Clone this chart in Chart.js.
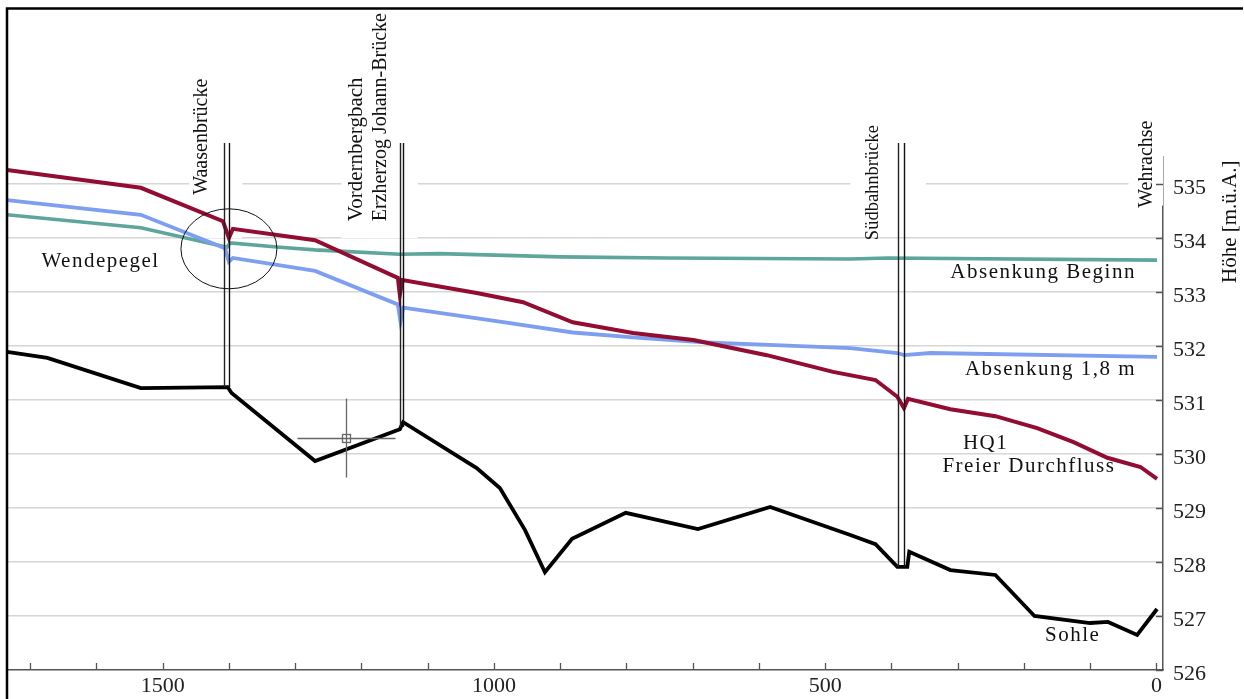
<!DOCTYPE html>
<html>
<head>
<meta charset="utf-8">
<script src="https://cdn.jsdelivr.net/npm/chart.js@4.4.1/dist/chart.umd.min.js"></script>
<style>
html,body{margin:0;padding:0;background:#fff;}
#wrap{width:1244px;height:699px;}
</style>
</head>
<body>
<div id="wrap"><canvas id="c" width="1244" height="699"></canvas></div>
<script>
// ---- data (station [m], height [m.ü.A.]) ----
const hq1 = [[1735,535.26],[1533,534.93],[1409,534.31],[1400,534.0],[1394,534.17],[1270,533.96],[1145,533.26],[1142,532.95],[1138,533.22],[1026,532.98],[956,532.81],[881,532.44],[790,532.24],[699,532.11],[648,531.98],[588,531.83],[488,531.52],[424,531.37],[391,531.06],[381,530.85],[375,531.02],[311,530.83],[243,530.70],[180,530.48],[125,530.22],[74,529.93],[24,529.76],[-1,529.54]];
const absenkung18 = [[1735,534.70],[1533,534.43],[1406,533.81],[1400,533.56],[1394,533.63],[1270,533.39],[1145,532.77],[1141,532.45],[1137,532.71],[991,532.45],[881,532.25],[790,532.16],[689,532.07],[462,531.96],[391,531.87],[381,531.83],[341,531.87],[-1,531.80]];
const absenkungBeginn = [[1735,534.43],[1533,534.19],[1403,533.83],[1398,533.91],[1323,533.83],[1270,533.78],[1142,533.70],[1082,533.71],[900,533.65],[739,533.63],[462,533.61],[406,533.63],[-1,533.59]];
const sohle = [[1735,531.89],[1674,531.78],[1533,531.22],[1402,531.24],[1396,531.13],[1270,529.87],[1142,530.46],[1137,530.59],[1026,529.74],[991,529.37],[953,528.59],[923,527.81],[882,528.43],[801,528.91],[692,528.61],[583,529.02],[462,528.50],[424,528.33],[391,527.91],[376,527.91],[373,528.19],[311,527.85],[243,527.76],[184,527.0],[100,526.87],[73,526.89],[29,526.65],[-1,527.13]];

const xTickValues = [0,100,200,300,400,500,600,700,800,900,1000,1100,1200,1300,1400,1500,1600,1700];
const yTickValues = [526,527,528,529,530,531,532,533,534,535];

// bridges: two station lines each, top height and bottom (river bed) height
const bridges = [
  {x1:1408, x2:1400, top:535.76, bottom:531.24},
  {x1:1142, x2:1137, top:535.76, bottom:530.50},
  {x1:390,  x2:381,  top:535.76, bottom:527.91}
];
// vertical labels: station of text centre, height of text start
const vLabels = [
  {text:'Waasenbrücke', x:1441, y:534.80, size:20, box:[1460,1380,534.0]},
  {text:'Vordernbergbach', x:1208, y:534.31, size:21, box:null},
  {text:'Erzherzog Johann-Brücke', x:1171, y:534.31, size:20, box:[1230,1115,534.0]},
  {text:'Südbahnbrücke', x:427, y:533.96, size:18.5, box:[462,348,534.1]},
  {text:'Wehrachse', x:15, y:534.56, size:20, box:[42,-10,534.6]}
];
const hLabels = [
  {text:'Wendepegel', x:1683, y:533.56},
  {text:'Absenkung Beginn', x:311, y:533.37},
  {text:'Absenkung 1,8 m', x:289, y:531.57},
  {text:'HQ1', x:292, y:530.20},
  {text:'Freier Durchfluss', x:323, y:529.76},
  {text:'Sohle', x:168, y:526.63}
];
const ringCentre = {x:1400, y:533.80};
const crossCentre = {x:1224, y:530.30};

const toXY = a => a.map(p => ({x:p[0], y:p[1]}));
const SERIF = '"Liberation Serif", "DejaVu Serif", serif';

const deco = {
  id:'deco',
  beforeDatasetsDraw(chart){
    const {ctx, scales:{x, y}} = chart;
    ctx.save();
    ctx.fillStyle = '#fff';
    vLabels.forEach(l => {
      if(!l.box) return;
      const xl = x.getPixelForValue(l.box[0]), xr = x.getPixelForValue(l.box[1]);
      const yb = y.getPixelForValue(l.box[2]);
      ctx.fillRect(xl, 150, xr - xl, yb - 150);
    });
    ctx.restore();
  },
  afterDatasetsDraw(chart){
    const {ctx, chartArea, scales:{x, y}} = chart;
    ctx.save();
    // bridges
    bridges.forEach(b => {
      [[b.x1,'#222'],[b.x2,'#111']].forEach(([xv,col]) => {
        const px = Math.round(x.getPixelForValue(xv)) + 0.5;
        ctx.strokeStyle = col; ctx.lineWidth = 1.4;
        ctx.beginPath();
        ctx.moveTo(px, y.getPixelForValue(b.top));
        ctx.lineTo(px, y.getPixelForValue(b.bottom));
        ctx.stroke();
      });
    });
    // ring
    ctx.strokeStyle = '#111'; ctx.lineWidth = 1;
    ctx.beginPath();
    ctx.ellipse(x.getPixelForValue(ringCentre.x), y.getPixelForValue(ringCentre.y), 48, 40, 0, 0, Math.PI*2);
    ctx.stroke();
    // crosshair
    const cx = Math.round(x.getPixelForValue(crossCentre.x)) + 0.5, cy = Math.round(y.getPixelForValue(crossCentre.y)) + 0.5;
    ctx.strokeStyle = '#666'; ctx.lineWidth = 1.3;
    ctx.beginPath();
    ctx.moveTo(cx, cy - 40); ctx.lineTo(cx, cy + 39);
    ctx.moveTo(cx - 49, cy); ctx.lineTo(cx + 49, cy);
    ctx.stroke();
    ctx.strokeRect(cx - 4, cy - 4, 8, 8);
    // inward tick marks
    ctx.strokeStyle = '#555'; ctx.lineWidth = 1.3;
    ctx.beginPath();
    xTickValues.forEach(v => {
      const px = Math.round(x.getPixelForValue(v)) + 0.5;
      ctx.moveTo(px, chartArea.bottom); ctx.lineTo(px, chartArea.bottom - 7);
    });
    yTickValues.forEach(v => {
      const py = Math.round(y.getPixelForValue(v)) + 0.5;
      ctx.moveTo(chartArea.right, py); ctx.lineTo(chartArea.right - 7, py);
    });
    ctx.stroke();
    // vertical labels
    ctx.fillStyle = '#111';
    ctx.textBaseline = 'middle'; ctx.textAlign = 'left';
    vLabels.forEach(l => {
      ctx.save();
      ctx.translate(x.getPixelForValue(l.x), y.getPixelForValue(l.y));
      ctx.rotate(-Math.PI/2);
      ctx.font = l.size + 'px ' + SERIF;
      ctx.fillText(l.text, 0, 0);
      ctx.restore();
    });
    // horizontal labels
    ctx.font = '21px ' + SERIF;
    try { ctx.letterSpacing = '1.5px'; } catch(e) {}
    hLabels.forEach(l => {
      ctx.fillText(l.text, x.getPixelForValue(l.x), y.getPixelForValue(l.y));
    });
    try { ctx.letterSpacing = '0px'; } catch(e) {}
    // axis title
    ctx.save();
    ctx.translate(y.right - 14, y.getPixelForValue(534.30));
    ctx.rotate(-Math.PI/2);
    ctx.textAlign = 'center';
    ctx.font = '21px ' + SERIF;
    ctx.fillText('Höhe [m.ü.A.]', 0, 0);
    ctx.restore();
    // frame
    ctx.strokeStyle = '#000'; ctx.lineWidth = 2.5;
    ctx.beginPath();
    ctx.moveTo(7, chart.height); ctx.lineTo(7, 8.5); ctx.lineTo(1243, 8.5);
    ctx.stroke();
    ctx.restore();
  }
};

new Chart(document.getElementById('c'), {
  type:'line',
  data:{
    datasets:[
      {label:'HQ1 Freier Durchfluss', data:toXY(hq1), borderColor:'#930c32', borderWidth:4},
      {label:'Absenkung 1,8 m', data:toXY(absenkung18), borderColor:'#7e9ef0', borderWidth:3.8},
      {label:'Absenkung Beginn', data:toXY(absenkungBeginn), borderColor:'#5ea59b', borderWidth:3.6},
      {label:'Sohle', data:toXY(sohle), borderColor:'#000', borderWidth:3.8}
    ]
  },
  options:{
    responsive:false,
    animation:false,
    devicePixelRatio:1,
    layout:{padding:{left:7, top:157, right:0, bottom:0}},
    elements:{point:{radius:0, hoverRadius:0}, line:{tension:0, borderJoinStyle:'miter', borderCapStyle:'butt'}},
    plugins:{legend:{display:false}, tooltip:{enabled:false}},
    events:[],
    scales:{
      x:{
        type:'linear', reverse:true, min:-10, max:1735,
        afterFit(s){ s.height = 29; },
        afterBuildTicks(s){ s.ticks = xTickValues.map(v => ({value:v})); },
        grid:{display:true, drawOnChartArea:false, drawTicks:false},
        border:{display:true, color:'#555', width:1.5},
        ticks:{
          autoSkip:false, maxRotation:0, padding:3, color:'#222',
          font:{family:SERIF, size:22},
          callback:v => (v % 500 === 0 ? String(v) : '')
        }
      },
      y:{
        type:'linear', position:'right', min:526, max:535.5,
        afterFit(s){ s.width = 81; },
        afterBuildTicks(s){ s.ticks = yTickValues.map(v => ({value:v})); },
        grid:{drawTicks:false, lineWidth:1.5, color:c => (c.tick && c.tick.value === 526 ? 'rgba(0,0,0,0)' : '#d6d6d6')},
        border:{display:true, color:'#555', width:1.5},
        ticks:{padding:10, labelOffset:4, color:'#222', font:{family:SERIF, size:22}}
      }
    }
  },
  plugins:[deco]
});
</script>
</body>
</html>
